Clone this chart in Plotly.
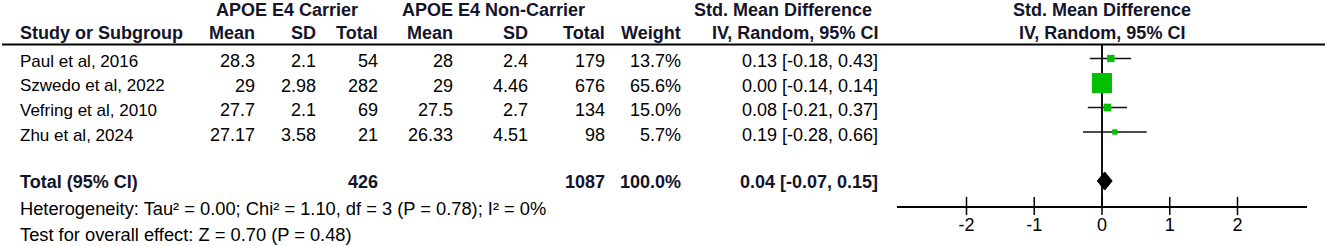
import plotly.graph_objects as go

# ---------------- data ----------------
studies = ["Paul et al, 2016", "Szwedo et al, 2022", "Vefring et al, 2010", "Zhu et al, 2024"]
car_mean = [28.3, 29, 27.7, 27.17]
car_sd = [2.1, 2.98, 2.1, 3.58]
car_n = [54, 282, 69, 21]
non_mean = [28, 29, 27.5, 26.33]
non_sd = [2.4, 4.46, 2.7, 4.51]
non_n = [179, 676, 134, 98]
weights = [13.7, 65.6, 15.0, 5.7]
smd = [0.13, 0.00, 0.08, 0.19]
smd_lo = [-0.18, -0.14, -0.21, -0.28]
smd_hi = [0.43, 0.14, 0.37, 0.66]

total_label = "Total (95% CI)"
total_car_n = 426
total_non_n = 1087
total_weight = 100.0
total_smd = 0.04
total_lo = -0.07
total_hi = 0.15

heterogeneity = "Heterogeneity: Tau² = 0.00; Chi² = 1.10, df = 3 (P = 0.78); I² = 0%"
overall = "Test for overall effect: Z = 0.70 (P = 0.48)"

group_headers = ["APOE E4 Carrier", "APOE E4 Non-Carrier", "Std. Mean Difference", "Std. Mean Difference"]
col_headers = ["Study or Subgroup", "Mean", "SD", "Total", "Mean", "SD", "Total", "Weight",
               "IV, Random, 95% CI", "IV, Random, 95% CI"]
tick_vals = [-2, -1, 0, 1, 2]
tick_text = ["-2", "-1", "0", "1", "2"]

# ---------------- layout helpers ----------------
W, H = 1325, 246
FONT = "Liberation Sans, Arial, sans-serif"
FS_NAME = 17
FS_NUM = 18
FS_BOLD = 18
FS_FOOT = 18.3
GREEN = "#00C000"
TXT = "#000000"
HDR = "#14142a"

def px(x):
    return x / W

def py(y):
    return 1 - y / H

ROW0, ROWH = 58.5, 24.5          # pixel centre of first row, row pitch
TOP_PX, AXIS_PX = 45, 206        # header rule and x-axis line
y_top = (TOP_PX - ROW0) / ROWH
y_bot = (AXIS_PX - ROW0) / ROWH
TOTAL_ROW = 5

X0_PX, X1_PX, ZERO_PX, UNIT_PX = 897, 1307, 1102, 67.75
x_lo = (X0_PX - ZERO_PX) / UNIT_PX
x_hi = (X1_PX - ZERO_PX) / UNIT_PX

rows = list(range(len(studies)))

fig = go.Figure()

# study CIs + squares
maxw = max(weights)
fig.add_trace(go.Scatter(
    x=smd, y=rows, mode="markers",
    marker=dict(symbol="square", color=GREEN, opacity=1,
                size=[4 + 16 * w / maxw for w in weights], line=dict(width=0)),
    error_x=dict(type="data", symmetric=False,
                 array=[h - m for h, m in zip(smd_hi, smd)],
                 arrayminus=[m - l for m, l in zip(smd, smd_lo)],
                 color="#111111", thickness=1.5, width=0),
    hoverinfo="skip", showlegend=False,
))

# pooled diamond
dh = 0.37
fig.add_trace(go.Scatter(
    x=[total_lo, total_smd, total_hi, total_smd, total_lo],
    y=[TOTAL_ROW, TOTAL_ROW - dh, TOTAL_ROW, TOTAL_ROW + dh, TOTAL_ROW],
    mode="lines", fill="toself", fillcolor="black", line=dict(color="black", width=1),
    hoverinfo="skip", showlegend=False,
))

# tick marks crossing the axis line (RevMan style)
fig.add_trace(go.Scatter(
    x=tick_vals, y=[y_bot] * len(tick_vals), mode="markers", cliponaxis=False,
    marker=dict(symbol="line-ns", size=13, line=dict(color="black", width=1.5)),
    hoverinfo="skip", showlegend=False,
))

ann = []

def add(text, x, y, anchor="right", bold=False, yref="y", shift=-3, color=TXT, size=FS_NUM):
    ann.append(dict(
        text=f"<b>{text}</b>" if bold else text,
        x=px(x), xref="paper", y=y, yref=yref, xanchor=anchor, yanchor="middle",
        showarrow=False, yshift=shift,
        font=dict(family=FONT, size=size, color=color),
    ))

# headers
g_x = [287, 493, 783, 1102]
for t, x in zip(group_headers, g_x):
    add(t, x, py(10), anchor="center", bold=True, yref="paper", shift=0, color=HDR, size=FS_BOLD)
h_x = [18, 257, 318, 380, 455, 530, 607, 683, 880, 1102]
h_anchor = ["left"] + ["right"] * 8 + ["center"]
for t, x, a in zip(col_headers, h_x, h_anchor):
    add(t, x, py(33), anchor=a, bold=True, yref="paper", shift=0, color=HDR, size=FS_BOLD)

# study rows
for i in rows:
    add(studies[i], 18, i, anchor="left", size=FS_NAME)
    add(f"{car_mean[i]:g}", 257, i)
    add(f"{car_sd[i]:g}", 318, i)
    add(f"{car_n[i]}", 380, i)
    add(f"{non_mean[i]:g}", 455, i)
    add(f"{non_sd[i]:g}", 530, i)
    add(f"{non_n[i]}", 607, i)
    add(f"{weights[i]:.1f}%", 683, i)
    add(f"{smd[i]:.2f} [{smd_lo[i]:.2f}, {smd_hi[i]:.2f}]", 880, i)

# total row
tb = dict(bold=True, color=HDR, size=FS_BOLD, shift=-1)
add(total_label, 18, TOTAL_ROW, anchor="left", **tb)
add(f"{total_car_n}", 380, TOTAL_ROW, **tb)
add(f"{total_non_n}", 607, TOTAL_ROW, **tb)
add(f"{total_weight:.1f}%", 683, TOTAL_ROW, **tb)
add(f"{total_smd:.2f} [{total_lo:.2f}, {total_hi:.2f}]", 880, TOTAL_ROW, **tb)

# footers
add(heterogeneity, 18, py(208), anchor="left", yref="paper", shift=0, size=FS_FOOT)
add(overall, 18, py(234), anchor="left", yref="paper", shift=0, size=FS_FOOT)

fig.update_layout(
    width=W, height=H, margin=dict(l=0, r=0, t=0, b=0),
    paper_bgcolor="white", plot_bgcolor="white", showlegend=False,
    annotations=ann,
    shapes=[dict(type="line", xref="paper", yref="paper", x0=px(2), x1=1,
                 y0=py(44.5), y1=py(44.5), line=dict(color="black", width=2))],
    xaxis=dict(domain=[px(X0_PX), px(X1_PX)], range=[x_lo, x_hi], anchor="y",
               showline=True, linecolor="black", linewidth=1.5,
               ticks="", tickvals=tick_vals, ticktext=tick_text, ticklabelstandoff=2,
               tickfont=dict(family=FONT, size=FS_NUM, color=TXT),
               zeroline=True, zerolinecolor="#111111", zerolinewidth=1.5,
               showgrid=False, fixedrange=True),
    yaxis=dict(domain=[py(AXIS_PX), py(TOP_PX)], range=[y_bot, y_top],
               visible=False, showgrid=False, zeroline=False, fixedrange=True),
)

fig.write_html("out.html", config={"displayModeBar": False},
               post_script="document.body.style.margin='0';document.body.style.overflow='hidden';")
